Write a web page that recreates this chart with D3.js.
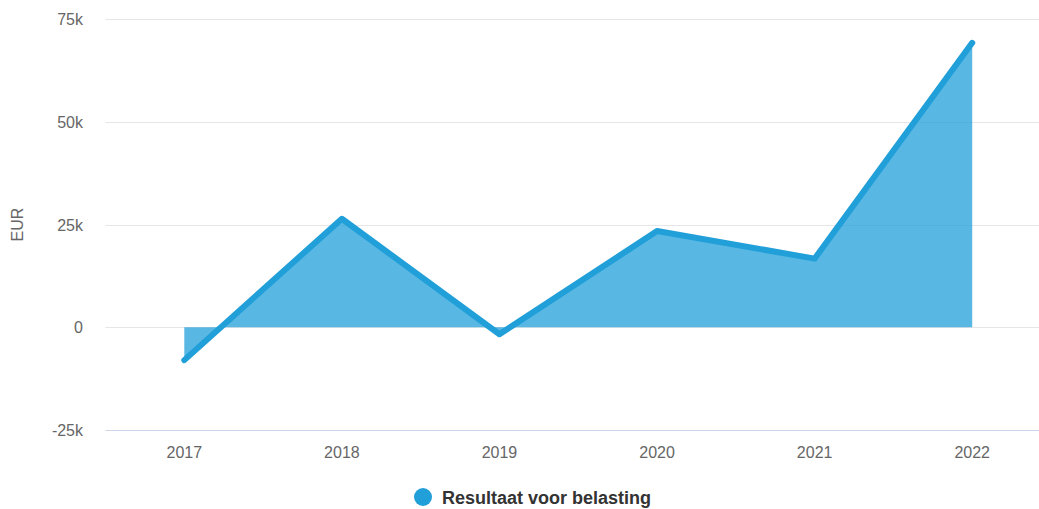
<!DOCTYPE html>
<html>
<head>
<meta charset="utf-8">
<script src="https://cdn.jsdelivr.net/npm/d3@7"></script>
<style>
  body { margin: 0; background: #fff; }
  svg { display: block; font-family: "Liberation Sans", Arial, Helvetica, sans-serif; }
</style>
</head>
<body>
<script>
'use strict';

// chart data
const years = ["2017", "2018", "2019", "2020", "2021", "2022"];
const values = [-8000, 26400, -1700, 23400, 16700, 69200];
const yTicks = [-25000, 0, 25000, 50000, 75000];
const yTickLabels = ["-25k", "0", "25k", "50k", "75k"];
const seriesName = "Resultaat voor belasting";
const yTitle = "EUR";

const width = 1039, height = 509;
const lineColor = "#219fd9";

const svg = d3.select("body").append("svg")
    .attr("width", width)
    .attr("height", height);

// x scale: categories centred in bands
const x = d3.scaleBand()
    .domain(years)
    .range([105.5, 1051]);
const xPos = function(d) { return x(d) + x.bandwidth() / 2; };

const y = d3.scaleLinear()
    .domain([-25000, 75000])
    .range([430, 19]);

// gridlines
svg.append("g")
    .selectAll("line")
    .data(yTicks)
    .enter()
    .append("line")
        .attr("x1", 105.5)
        .attr("x2", width)
        .attr("y1", d => Math.round(y(d)) + 0.5)
        .attr("y2", d => Math.round(y(d)) + 0.5)
        .attr("stroke", "#e6e6e6")
        .attr("stroke-width", 1);

// x axis line
svg.append("line")
    .attr("x1", 105.5)
    .attr("x2", width)
    .attr("y1", Math.round(y(-25000)) + 0.5)
    .attr("y2", Math.round(y(-25000)) + 0.5)
    .attr("stroke", "#ccd6eb")
    .attr("stroke-width", 1);

// y tick labels
svg.append("g")
    .selectAll("text")
    .data(yTicks)
    .enter()
    .append("text")
        .attr("x", 83)
        .attr("y", d => y(d) + 6)
        .attr("text-anchor", "end")
        .attr("fill", "#666666")
        .attr("font-size", "16px")
        .text((d, i) => yTickLabels[i]);

// y axis title
svg.append("text")
    .attr("transform", "translate(23," + y(25000) + ") rotate(-90)")
    .attr("text-anchor", "middle")
    .attr("fill", "#666666")
    .attr("font-size", "16px")
    .text(yTitle);

// x tick labels
svg.append("g")
    .selectAll("text")
    .data(years)
    .enter()
    .append("text")
        .attr("x", d => xPos(d))
        .attr("y", 458)
        .attr("text-anchor", "middle")
        .attr("fill", "#666666")
        .attr("font-size", "16px")
        .text(d => d);

const points = years.map((d, i) => ({ year: d, value: values[i] }));

// area to the zero line
const area = d3.area()
    .x(d => xPos(d.year))
    .y0(y(0))
    .y1(d => y(d.value));

svg.append("path")
    .datum(points)
    .attr("d", area)
    .attr("fill", lineColor)
    .attr("fill-opacity", 0.75);

const line = d3.line()
    .x(d => xPos(d.year))
    .y(d => y(d.value));

svg.append("path")
    .datum(points)
    .attr("d", line)
    .attr("fill", "none")
    .attr("stroke", lineColor)
    .attr("stroke-width", 6)
    .attr("stroke-linecap", "round")
    .attr("stroke-linejoin", "round");

// legend
svg.append("circle")
    .attr("cx", 423)
    .attr("cy", 497)
    .attr("r", 9)
    .attr("fill", lineColor);

svg.append("text")
    .attr("x", 442)
    .attr("y", 504)
    .attr("fill", "#333333")
    .attr("font-size", "18px")
    .attr("font-weight", "bold")
    .text(seriesName);
</script>
</body>
</html>
